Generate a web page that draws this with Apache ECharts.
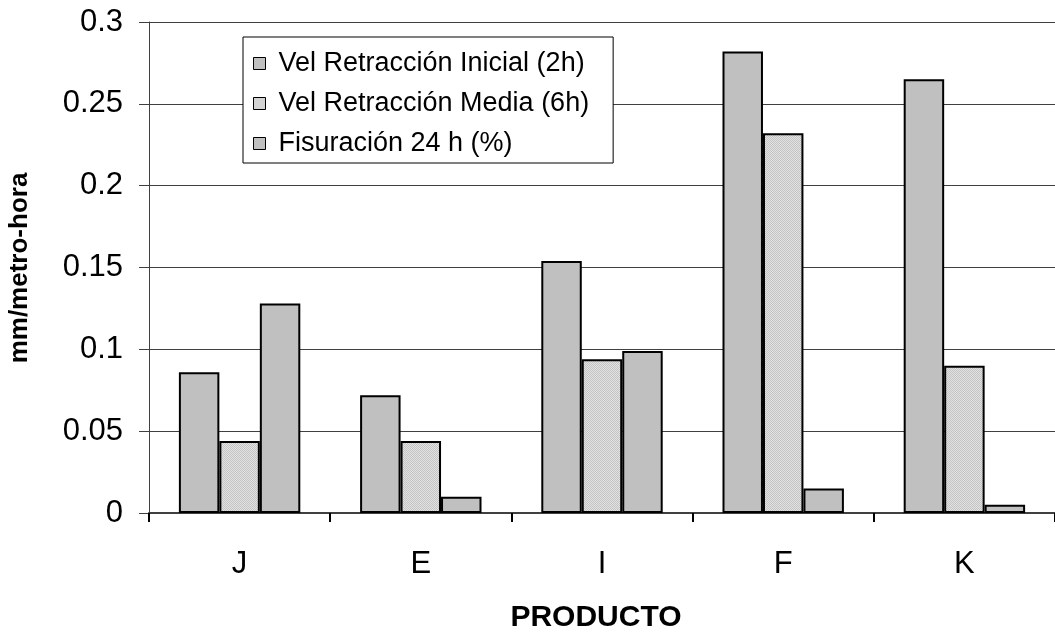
<!DOCTYPE html>
<html>
<head>
<meta charset="utf-8">
<script src="https://cdn.jsdelivr.net/npm/echarts@6/dist/echarts.min.js"></script>
<style>
html, body { margin: 0; padding: 0; background: #fff; }
#chart { width: 1055px; height: 639px; }
</style>
</head>
<body>
<div id="chart"></div>
<script>
// Productos ensayados y sus velocidades de retracción / fisuración
const categories = ['J', 'E', 'I', 'F', 'K'];
const seriesNames = ['Vel Retracción Inicial (2h)', 'Vel Retracción Media (6h)', 'Fisuración 24 h (%)'];
const velInicial = [0.086, 0.072, 0.154, 0.282, 0.265];
const velMedia = [0.044, 0.044, 0.094, 0.232, 0.090];
const fisuracion = [0.128, 0.010, 0.099, 0.015, 0.005];
const yTicks = [0, 0.05, 0.1, 0.15, 0.2, 0.25, 0.3];

// Fine dotted gray fill used for the second series
function ditherPattern() {
  const c = document.createElement('canvas');
  c.width = 2; c.height = 2;
  const g = c.getContext('2d');
  g.fillStyle = '#e2e2e2'; g.fillRect(0, 0, 2, 2);
  g.fillStyle = '#c4c4c4'; g.fillRect(0, 0, 1, 1); g.fillRect(1, 1, 1, 1);
  return c;
}

const FONT = 'Liberation Sans, Arial, sans-serif';
const border = { borderColor: '#000', borderWidth: 2 };

const chart = echarts.init(document.getElementById('chart'), null, { renderer: 'canvas' });
chart.setOption({
  animation: false,
  backgroundColor: '#fff',
  grid: { left: 149, right: -13, top: 22, bottom: 126, containLabel: false },
  legend: {
    orient: 'vertical',
    left: 243, top: 37,
    padding: [13, 24, 6, 10],
    itemGap: 13,
    itemWidth: 12, itemHeight: 12,
    backgroundColor: '#fff',
    borderColor: '#000', borderWidth: 1,
    icon: 'rect',
    itemStyle: { borderColor: '#000', borderWidth: 1 },
    textStyle: { fontFamily: FONT, fontSize: 27, color: '#000', padding: [0, 0, 0, 8] },
    data: seriesNames
  },
  xAxis: {
    type: 'category',
    data: categories,
    axisLine: { lineStyle: { color: '#404040', width: 2 } },
    axisTick: { show: true, length: 9, alignWithLabel: false, lineStyle: { color: '#000', width: 2 } },
    axisLabel: { fontFamily: FONT, fontSize: 31, color: '#000', margin: 36 },
    splitLine: { show: false }
  },
  yAxis: {
    type: 'value',
    min: 0, max: 0.3, interval: 0.05,
    axisLine: { show: true, lineStyle: { color: '#404040', width: 1 } },
    axisTick: { show: true, inside: false, length: 10, lineStyle: { color: '#404040' } },
    axisLabel: {
      fontFamily: FONT, fontSize: 31, color: '#000', margin: 26,
      formatter: v => {
        const t = yTicks.find(x => Math.abs(x - v) < 1e-9);
        return t === undefined ? '' : String(t);
      }
    },
    splitLine: { show: true, lineStyle: { color: '#404040', width: 1 } }
  },
  graphic: [
    {
      type: 'text',
      x: 20, y: 268, rotation: Math.PI / 2,
      style: { text: 'mm/metro-hora', fontFamily: FONT, fontWeight: 'bold', fontSize: 26, fill: '#000', align: 'center', verticalAlign: 'middle' }
    },
    {
      type: 'text',
      x: 596, y: 618,
      style: { text: 'PRODUCTO', fontFamily: FONT, fontWeight: 'bold', fontSize: 30, fill: '#000', align: 'center', verticalAlign: 'middle' }
    }
  ],
  series: [
    {
      name: seriesNames[0], type: 'bar', data: velInicial,
      barGap: '0%', barCategoryGap: '33%',
      itemStyle: Object.assign({ color: '#c0c0c0' }, border)
    },
    {
      name: seriesNames[1], type: 'bar', data: velMedia,
      itemStyle: Object.assign({ color: { image: ditherPattern(), repeat: 'repeat' } }, border)
    },
    {
      name: seriesNames[2], type: 'bar', data: fisuracion,
      itemStyle: Object.assign({ color: '#c0c0c0' }, border)
    }
  ]
});
</script>
</body>
</html>
